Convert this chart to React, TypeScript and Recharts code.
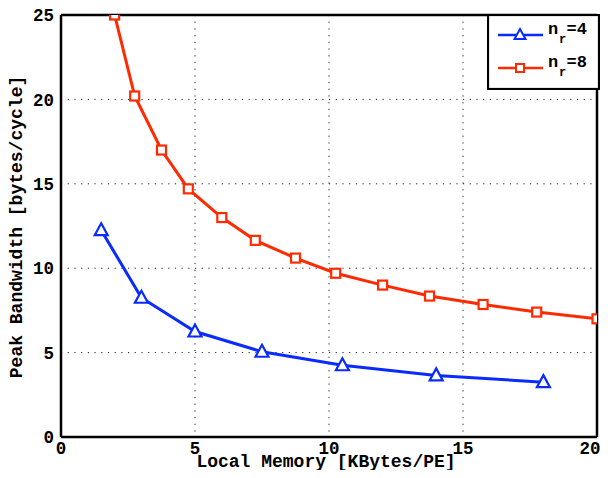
import { LineChart, Line, XAxis, YAxis, CartesianGrid, ReferenceLine, Legend } from 'recharts';

// valores
const xTicks = [0, 5, 10, 15, 20];
const yTicks = [0, 5, 10, 15, 20, 25];

const nr4X = [1.5, 3, 5, 7.5, 10.5, 14, 18];
const nr4Y = [12.25, 8.25, 6.25, 5.05, 4.25, 3.65, 3.25];

const nr8X = [2, 2.75, 3.75, 4.75, 6, 7.25, 8.75, 10.25, 12, 13.75, 15.75, 17.75, 20];
const nr8Y = [25, 20.2, 17.0, 14.7, 13.0, 11.65, 10.6, 9.7, 9.0, 8.35, 7.85, 7.4, 7.0];

const legendLabels = ['4', '8'];

const BLUE = '#0a2bff';
const RED = '#ff2a00';
const FONT = '"Liberation Mono", "DejaVu Sans Mono", monospace';

const nr4 = nr4X.map((x, i) => ({ x, y: nr4Y[i] }));
const nr8 = nr8X.map((x, i) => ({ x, y: nr8Y[i] }));

const Triangle = (props: any) => {
  const { cx, cy } = props;
  if (cx == null || cy == null) return null;
  return (
    <path
      d={`M${cx},${cy - 7} L${cx + 6.5},${cy + 5} L${cx - 6.5},${cy + 5} Z`}
      fill="#fff"
      stroke={BLUE}
      strokeWidth={2.2}
    />
  );
};

const Square = (props: any) => {
  const { cx, cy } = props;
  if (cx == null || cy == null) return null;
  return <rect x={cx - 4.5} y={cy - 4.5} width={9} height={9} fill="#fff" stroke={RED} strokeWidth={2.2} />;
};

// el ultimo tick se corre un poco para que no se corte
const XTick = (props: any) => {
  const { x, y, payload } = props;
  const last = payload.value === xTicks[xTicks.length - 1];
  return (
    <text
      x={last ? x - 7 : x}
      y={y + 8}
      textAnchor="middle"
      fontFamily={FONT}
      fontWeight="bold"
      fontSize={17.5}
      fill="#000"
    >
      {payload.value}
    </text>
  );
};

const LegendBox = () => {
  const rows = [
    { color: BLUE, label: legendLabels[0], marker: 'tri' },
    { color: RED, label: legendLabels[1], marker: 'sq' },
  ];
  return (
    <svg width={113} height={76} style={{ display: 'block' }}>
      <rect x={1} y={1} width={111} height={74} fill="#fff" stroke="#000" strokeWidth={2.2} />
      {rows.map((r, i) => {
        const cy = 21 + i * 33;
        return (
          <g key={r.label}>
            <line x1={11} x2={56} y1={cy} y2={cy} stroke={r.color} strokeWidth={2.5} />
            {r.marker === 'tri' ? (
              <path d={`M33,${cy - 6} L38.5,${cy + 4} L27.5,${cy + 4} Z`} fill="#fff" stroke={r.color} strokeWidth={2} />
            ) : (
              <rect x={29} y={cy - 4} width={8} height={8} fill="#fff" stroke={r.color} strokeWidth={2} />
            )}
            <text x={61} y={cy - 1} fontFamily={FONT} fontWeight="bold" fontSize={17} fill="#000">n</text>
            <text x={72} y={cy + 8} fontFamily={FONT} fontWeight="bold" fontSize={12} fill="#000">r</text>
            <text x={79.5} y={cy - 1} fontFamily={FONT} fontWeight="bold" fontSize={17} fill="#000">={r.label}</text>
          </g>
        );
      })}
    </svg>
  );
};

const tickStyle = { fontFamily: FONT, fontWeight: 'bold', fontSize: 17.5, fill: '#000' };

export default function App() {
  // el svg cubre toda la ventana (se compensa el margen del body)
  return (
    <div style={{ width: 608, height: 478, margin: -8 }}>
      <LineChart width={608} height={478} margin={{ top: 15, right: 11, bottom: 0, left: 8 }}>
        <CartesianGrid stroke="#222" strokeDasharray="1.2 5.5" strokeWidth={1} />
        <XAxis
          dataKey="x"
          type="number"
          domain={[0, 20]}
          ticks={xTicks}
          height={41}
          tickLine={false}
          tickMargin={3}
          axisLine={{ stroke: '#000', strokeWidth: 2.5 }}
          tick={<XTick />}
          allowDataOverflow
          label={{
            content: (p: any) => {
              const vb = p.viewBox || {};
              return (
                <text
                  x={vb.x + vb.width / 2 - 3}
                  y={vb.y + 30}
                  textAnchor="middle"
                  fontFamily={FONT}
                  fontWeight="bold"
                  fontSize={18}
                  fill="#000"
                >
                  Local Memory [KBytes/PE]
                </text>
              );
            },
          }}
        />
        <YAxis
          type="number"
          domain={[0, 25]}
          ticks={yTicks}
          width={53}
          tickLine={false}
          tickMargin={1}
          axisLine={{ stroke: '#000', strokeWidth: 2.5 }}
          tick={tickStyle}
          allowDataOverflow
          label={{
            content: (p: any) => {
              const vb = p.viewBox || {};
              const cx = vb.x + 14;
              const cy = vb.y + vb.height / 2 + 1;
              return (
                <text
                  x={cx}
                  y={cy}
                  transform={`rotate(-90 ${cx} ${cy})`}
                  textAnchor="middle"
                  fontFamily={FONT}
                  fontWeight="bold"
                  fontSize={18}
                  fill="#000"
                >
                  Peak Bandwidth [bytes/cycle]
                </text>
              );
            },
          }}
        />
        <ReferenceLine y={25} stroke="#000" strokeWidth={2.5} />
        <ReferenceLine x={20} stroke="#000" strokeWidth={2.5} />
        <Line
          data={nr4}
          dataKey="y"
          name="nr=4"
          stroke={BLUE}
          strokeWidth={3}
          dot={<Triangle />}
          activeDot={false}
          isAnimationActive={false}
        />
        <Line
          data={nr8}
          dataKey="y"
          name="nr=8"
          stroke={RED}
          strokeWidth={3}
          dot={<Square />}
          activeDot={false}
          isAnimationActive={false}
        />
        <Legend
          layout="horizontal"
          align="center"
          verticalAlign="middle"
          content={() => <LegendBox />}
          wrapperStyle={{ position: 'absolute', left: 487, top: 14, width: 113, height: 76 }}
        />
      </LineChart>
    </div>
  );
}
